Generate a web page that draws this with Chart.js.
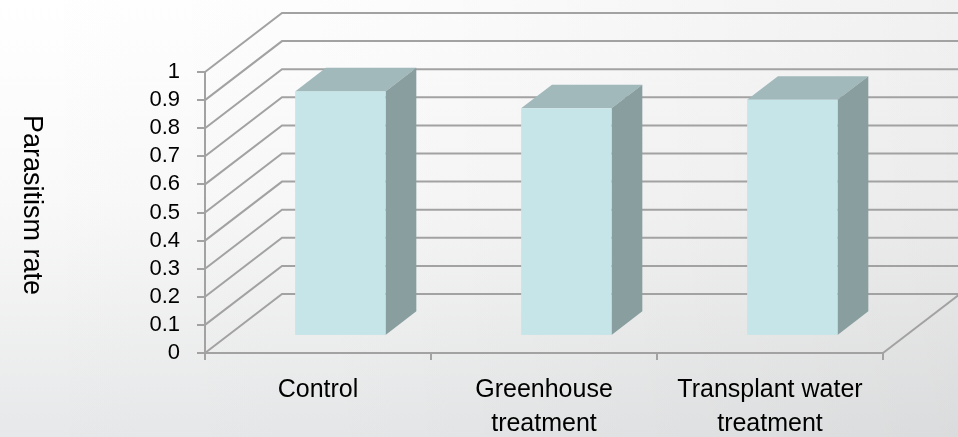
<!DOCTYPE html>
<html>
<head>
<meta charset="utf-8">
<script src="https://cdn.jsdelivr.net/npm/chart.js@4/dist/chart.umd.min.js"></script>
<style>
  html, body { margin: 0; padding: 0; background: #fff; }
  #wrap { width: 958px; height: 437px; position: relative; }
</style>
</head>
<body>
<div id="wrap"><canvas id="c" width="958" height="437"></canvas></div>
<script>
// Parasitism rate by treatment
const categories = ['Control', ['Greenhouse', 'treatment'], ['Transplant water', 'treatment']];
const parasitismRate = [0.87, 0.81, 0.84];
const yTickLabels = ['0', '0.1', '0.2', '0.3', '0.4', '0.5', '0.6', '0.7', '0.8', '0.9', '1'];
const yTitle = 'Parasitism rate';

// oblique depth of the 3D box (back wall offset) and bar placement inside it
const DEPTH_X = 77, DEPTH_Y = 59;
const BAR_FRONT = 0.29, BAR_BACK = 0.69;
const GRID = '#a2a2a2';
const FONT = "'Liberation Sans', Arial, sans-serif";

const box3d = {
  id: 'box3d',
  beforeDraw(chart) {
    const { ctx, width, height } = chart;
    ctx.save();
    const v = ctx.createLinearGradient(0, 0, 0, height);
    v.addColorStop(0, '#ffffff');
    v.addColorStop(0.45, '#f9f9f9');
    v.addColorStop(1, '#e7e8e9');
    ctx.fillStyle = v;
    ctx.fillRect(0, 0, width, height);
    const h = ctx.createLinearGradient(0, 0, width, 0);
    h.addColorStop(0, 'rgba(0,0,0,0)');
    h.addColorStop(0.4, 'rgba(0,0,0,0.01)');
    h.addColorStop(1, 'rgba(0,0,0,0.055)');
    ctx.fillStyle = h;
    ctx.fillRect(0, 0, width, height);
    ctx.restore();
  },
  beforeDatasetsDraw(chart) {
    const { ctx, chartArea: a, scales: { y } } = chart;
    ctx.save();
    ctx.strokeStyle = GRID;
    ctx.lineWidth = 2;
    y.ticks.forEach(t => {
      const py = y.getPixelForValue(t.value);
      ctx.beginPath();
      ctx.moveTo(a.left, py);
      ctx.lineTo(a.left + DEPTH_X, py - DEPTH_Y);
      ctx.lineTo(a.right + DEPTH_X, py - DEPTH_Y);
      ctx.stroke();
    });
    // right edge of the floor
    const p0 = y.getPixelForValue(0);
    ctx.beginPath();
    ctx.moveTo(a.right, p0);
    ctx.lineTo(a.right + DEPTH_X, p0 - DEPTH_Y);
    ctx.stroke();
    ctx.restore();
  },
  afterDatasetsDraw(chart) {
    const { ctx } = chart;
    const meta = chart.getDatasetMeta(0);
    const fx = DEPTH_X * BAR_FRONT, fy = -DEPTH_Y * BAR_FRONT;
    const bx = DEPTH_X * BAR_BACK, by = -DEPTH_Y * BAR_BACK;
    ctx.save();
    meta.data.forEach(bar => {
      const { x, y, base, width } = bar.getProps(['x', 'y', 'base', 'width'], true);
      const l = x - width / 2, r = x + width / 2;
      // top face
      ctx.fillStyle = '#a1b9bb';
      ctx.beginPath();
      ctx.moveTo(l + fx, y + fy);
      ctx.lineTo(l + bx, y + by);
      ctx.lineTo(r + bx, y + by);
      ctx.lineTo(r + fx, y + fy);
      ctx.closePath();
      ctx.fill();
      // side face
      ctx.fillStyle = '#889e9f';
      ctx.beginPath();
      ctx.moveTo(r + fx, y + fy);
      ctx.lineTo(r + bx, y + by);
      ctx.lineTo(r + bx, base + by);
      ctx.lineTo(r + fx, base + fy);
      ctx.closePath();
      ctx.fill();
      // front face
      ctx.fillStyle = '#c6e5e8';
      ctx.fillRect(l + fx, y + fy, width, base - y);
    });
    ctx.restore();
  },
  afterDraw(chart) {
    const { ctx } = chart;
    ctx.save();
    ctx.translate(31, 205);
    ctx.rotate(Math.PI / 2);
    ctx.fillStyle = '#000';
    ctx.font = '27px ' + FONT;
    ctx.textAlign = 'center';
    ctx.textBaseline = 'middle';
    ctx.fillText(yTitle, 0, 0);
    ctx.restore();
  }
};

new Chart(document.getElementById('c'), {
  type: 'bar',
  data: {
    labels: categories,
    datasets: [{
      label: yTitle,
      data: parasitismRate,
      backgroundColor: 'rgba(0,0,0,0)',
      borderWidth: 0,
      barPercentage: 0.4,
      categoryPercentage: 1
    }]
  },
  options: {
    responsive: false,
    animation: false,
    devicePixelRatio: 1,
    layout: { padding: { top: 72, right: 75, left: 0, bottom: 0 } },
    plugins: { legend: { display: false }, tooltip: { enabled: false } },
    scales: {
      x: {
        type: 'category',
        grid: { offset: true, drawOnChartArea: false, color: GRID, lineWidth: 2, tickLength: 7 },
        border: { display: true, color: GRID, width: 2 },
        ticks: { color: '#000', padding: 13, maxRotation: 0, autoSkip: false,
                 font: { family: FONT, size: 25, lineHeight: 1.35 } },
        afterFit(s) { s.height = 84; }
      },
      y: {
        min: 0, max: 1,
        grid: { drawOnChartArea: false, color: GRID, lineWidth: 2, tickLength: 8 },
        border: { display: true, color: GRID, width: 2 },
        ticks: { stepSize: 0.1, color: '#000', padding: 17, autoSkip: false,
                 font: { family: FONT, size: 22 },
                 callback: (v, i) => yTickLabels[i] },
        afterFit(s) { s.width = 205; }
      }
    }
  },
  plugins: [box3d]
});
</script>
</body>
</html>
